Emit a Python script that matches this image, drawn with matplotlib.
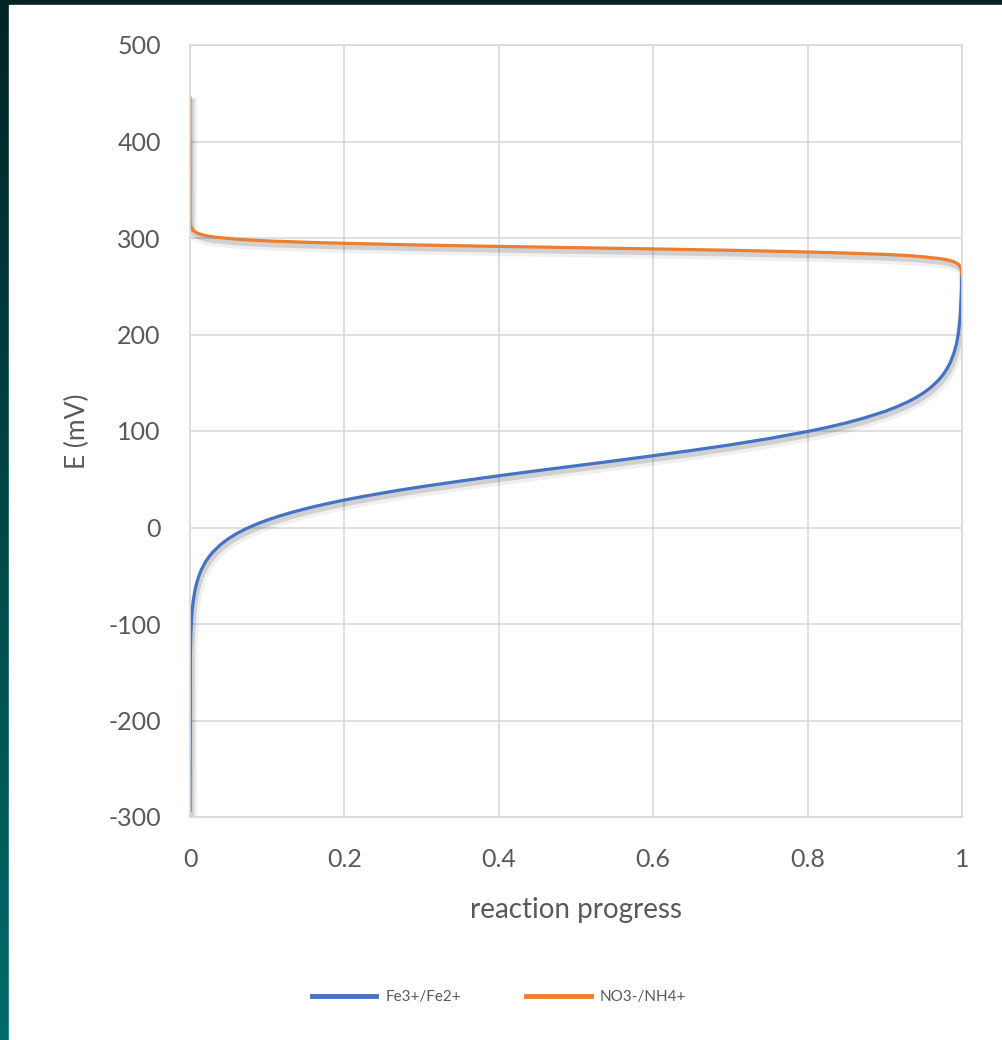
"""
plot.py
Redox potential vs reaction progress for Fe3+/Fe2+ and NO3-/NH4+.
Output: out.png
"""

import numpy as np
import matplotlib.pyplot as plt
import matplotlib.patheffects as pe
from matplotlib.patches import Rectangle
from matplotlib.colors import LinearSegmentedColormap

OUT_PATH = "out.png"

# Fe3+/Fe2+ couple
fe_x = [0.0, 0.0005, 0.001, 0.002, 0.003, 0.004, 0.006, 0.008, 0.011, 0.015,
        0.02, 0.025, 0.03, 0.04, 0.05, 0.06, 0.07, 0.08, 0.09, 0.1, 0.115,
        0.13, 0.145, 0.16, 0.18, 0.2, 0.225, 0.25, 0.275, 0.3, 0.35, 0.4,
        0.45, 0.5, 0.55, 0.6, 0.65, 0.7, 0.75, 0.8, 0.825, 0.85, 0.875, 0.9,
        0.915, 0.93, 0.94, 0.95, 0.96, 0.97, 0.975, 0.98, 0.985, 0.99, 0.993,
        0.995, 0.997, 0.998, 0.999, 0.9995, 1.0]
fe_E = [-293, -130.8, -113, -95.2, -84.8, -77.4, -67, -59.5, -51.3, -43.2,
        -35.7, -29.9, -25.1, -17.4, -11.4, -6.5, -2.3, 1.4, 4.7, 7.7, 11.7,
        15.3, 18.5, 21.5, 25.1, 28.5, 32.3, 35.8, 39.2, 42.3, 48.1, 53.6,
        58.9, 64, 69.1, 74.4, 79.9, 85.7, 92.2, 99.5, 103.7, 108.4, 113.9, 120.3,
        124.9, 130.3, 134.5, 139.4, 145.4, 153.1, 157.9, 163.7, 171.2, 181.7, 191,
        199.6, 213, 223, 241, 252, 262]

# NO3-/NH4+ couple
no3_x = [0.0, 0.0002, 0.001, 0.004, 0.01, 0.02, 0.03, 0.045, 0.06, 0.08, 0.1,
         0.15, 0.2, 0.3, 0.4, 0.5, 0.6, 0.7, 0.8, 0.85, 0.9, 0.93, 0.95,
         0.97, 0.98, 0.985, 0.99, 0.995, 0.998, 0.999, 1.0]
no3_E = [445, 317.4, 312.2, 307.7, 304.8, 302.5, 301.1, 299.9, 298.8, 297.8, 297,
         295.6, 294.5, 292.7, 291.3, 290, 288.7, 287.3, 285.5, 284.4, 283,
         281.8, 280.5, 278.8, 277.5, 276.5, 275.2, 273, 270, 267.8, 262]

x_ticks = [0, 0.2, 0.4, 0.6, 0.8, 1]
x_labels = ["0", "0.2", "0.4", "0.6", "0.8", "1"]
y_ticks = [-300, -200, -100, 0, 100, 200, 300, 400, 500]

BLUE = "#4472C4"
ORANGE = "#ED7D31"
TXT = "#595959"
GRID = "#D9D9D9"

plt.rcParams["font.family"] = ["Lato", "DejaVu Sans"]
plt.rcParams["axes.unicode_minus"] = False

fig = plt.figure(figsize=(10.02, 10.4), dpi=100)

# dark teal frame on the left/top edge
bg = fig.add_axes([0, 0, 1, 1], zorder=-10)
grad = np.linspace(0, 1, 256).reshape(-1, 1)
cmap = LinearSegmentedColormap.from_list("teal", ["#002426", "#006B69"])
bg.imshow(grad, aspect="auto", cmap=cmap, extent=[0, 1, 0, 1], origin="upper")
bg.add_patch(Rectangle((9 / 1002, 0), 1, 1 - 5 / 1040, color="white"))
bg.set_xlim(0, 1)
bg.set_ylim(0, 1)
bg.axis("off")

ax = fig.add_axes([190 / 1002, 1 - 817 / 1040, (962 - 190) / 1002, (817 - 45) / 1040])
ax.set_facecolor("none")

shadow = [pe.SimpleLineShadow(offset=(1.5, -3.5), shadow_color="k", alpha=0.06, linewidth=7),
          pe.SimpleLineShadow(offset=(1, -2.5), shadow_color="k", alpha=0.13, linewidth=4),
          pe.Normal()]

ax.plot(fe_x, fe_E, color=BLUE, lw=2.3, label="Fe3+/Fe2+", path_effects=shadow,
        solid_joinstyle="round")
ax.plot(no3_x, no3_E, color=ORANGE, lw=2.3, label="NO3-/NH4+", path_effects=shadow,
        solid_joinstyle="round")

ax.set_xlim(0, 1)
ax.set_ylim(-300, 500)
ax.set_xticks(x_ticks)
ax.set_xticklabels(x_labels)
ax.set_yticks(y_ticks)
ax.grid(True, color=GRID, lw=1.2)
ax.set_axisbelow(True)
for s in ax.spines.values():
    s.set_color(GRID)
    s.set_linewidth(1.2)
ax.tick_params(length=0, labelsize=18, labelcolor=TXT)
ax.tick_params(axis="y", pad=21)
ax.tick_params(axis="x", pad=22)

ax.set_xlabel("reaction progress", fontsize=20, color=TXT, labelpad=19)
ax.set_ylabel("E (mV)", fontsize=19, color=TXT, labelpad=13)

leg = fig.legend(loc="center", bbox_to_anchor=(499 / 1002, 1 - 997 / 1040), ncol=2,
                 frameon=False, fontsize=11, handlelength=4.2, handletextpad=0.6,
                 columnspacing=4.3, labelcolor=TXT)
for line in leg.get_lines():
    line.set_linewidth(3.5)
    line.set_path_effects([])

fig.savefig(OUT_PATH, dpi=100)
